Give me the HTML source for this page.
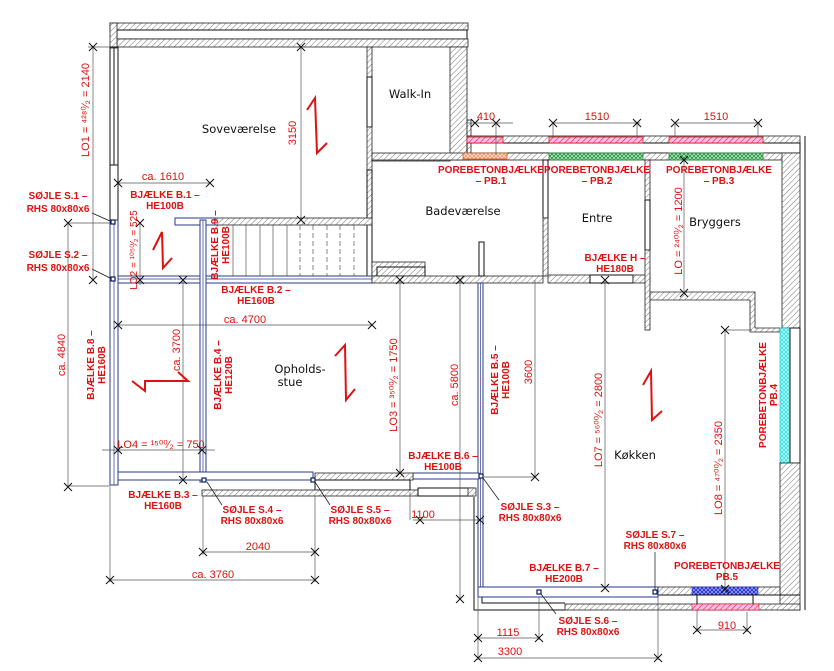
<!DOCTYPE html>
<html><head><meta charset="utf-8"><style>
html,body{margin:0;padding:0;background:#fff;width:834px;height:671px;overflow:hidden}
svg{display:block}
.r{fill:#e01010;font-family:"Liberation Sans",sans-serif;font-weight:bold;font-size:10px;text-anchor:middle}
.d{fill:#e01010;font-family:"Liberation Sans",sans-serif;font-size:11px;text-anchor:middle}
.n{fill:#111;font-family:"DejaVu Sans","Liberation Sans",sans-serif;font-size:11.5px;text-anchor:middle}
.h{fill:url(#hat);stroke:#222;stroke-width:0.8}
.b{fill:#fff;stroke:#2a3a8a;stroke-width:1}
.dl{stroke:#555;stroke-width:0.7;fill:none}
.z{stroke:#e01010;stroke-width:2;fill:none}
.w{stroke:#111;stroke-width:1;fill:none}
</style></head><body>
<svg width="834" height="671" viewBox="0 0 834 671" xmlns="http://www.w3.org/2000/svg">
<defs>
<pattern id="hat" width="4" height="4" patternUnits="userSpaceOnUse" patternTransform="rotate(45)"><rect width="4" height="4" fill="#fff"/><line x1="0" y1="0" x2="0" y2="4" stroke="#777" stroke-width="1"/></pattern>
<pattern id="xr" width="4" height="4" patternUnits="userSpaceOnUse" patternTransform="rotate(45)"><rect width="4" height="4" fill="#fbe"/><line x1="0" y1="0" x2="0" y2="4" stroke="#e01010" stroke-width="1"/></pattern>
<pattern id="xg" width="4" height="4" patternUnits="userSpaceOnUse"><rect width="4" height="4" fill="#2a9a4a"/><path d="M0 0L4 4M4 0L0 4" stroke="#bfe8c8" stroke-width="0.7"/></pattern>
<pattern id="xo" width="4" height="4" patternUnits="userSpaceOnUse"><rect width="4" height="4" fill="#f3a060"/><path d="M0 0L4 4M4 0L0 4" stroke="#fde" stroke-width="0.7"/></pattern>
<pattern id="xc" width="4" height="4" patternUnits="userSpaceOnUse"><rect width="4" height="4" fill="#40e0e8"/><path d="M0 0L4 4M4 0L0 4" stroke="#bff" stroke-width="0.7"/></pattern>
<pattern id="xb" width="4" height="4" patternUnits="userSpaceOnUse"><rect width="4" height="4" fill="#2030d0"/><path d="M0 0L4 4M4 0L0 4" stroke="#aaf" stroke-width="0.7"/></pattern>
</defs>

<!-- top wall -->
<rect class="h" x="110" y="23" width="358" height="7"/>
<rect class="w" x="117" y="30" width="350" height="9"/>
<rect class="h" x="117" y="39" width="351" height="8"/>
<rect class="h" x="110" y="23" width="7" height="25"/>
<!-- left window of bedroom -->
<rect class="w" x="110" y="47" width="8" height="118"/>
<line class="w" x1="114" y1="47" x2="114" y2="165"/>
<rect class="w" x="110" y="165" width="8" height="55"/>
<!-- walk-in right wall -->
<rect class="h" x="450" y="47" width="17" height="113"/>
<rect class="h" x="467" y="120" width="4" height="40"/>
<!-- walk-in divider -->
<rect class="h" x="367" y="47" width="5" height="30"/>
<rect class="w" x="367" y="77" width="5" height="50"/>
<rect class="h" x="367" y="127" width="5" height="97"/>
<rect class="h" x="372" y="155" width="78" height="6"/>
<rect class="w" x="367" y="170" width="5" height="108"/>
<!-- bedroom bottom wall -->
<rect class="h" x="215" y="218" width="157" height="7"/>
<rect class="b" x="175" y="218" width="40" height="7"/>
<!-- stair -->
<g stroke="#555" stroke-width="0.7">
<line x1="233" y1="225" x2="233" y2="276"/><line x1="246" y1="225" x2="246" y2="276"/><line x1="260" y1="225" x2="260" y2="276"/><line x1="273" y1="225" x2="273" y2="276"/><line x1="287" y1="225" x2="287" y2="276"/><line x1="300" y1="225" x2="300" y2="276" stroke-dasharray="5,3"/><line x1="313" y1="225" x2="313" y2="276" stroke-dasharray="5,3"/><line x1="327" y1="225" x2="327" y2="276" stroke-dasharray="5,3"/><line x1="340" y1="225" x2="340" y2="276" stroke-dasharray="5,3"/><line x1="354" y1="225" x2="354" y2="276" stroke-dasharray="5,3"/>
</g>
<rect class="h" x="372" y="262" width="53" height="14"/>
<rect class="w" x="377" y="267" width="48" height="9" fill="#fff"/>
<!-- beam B.2 -->
<rect class="b" x="110" y="276" width="262" height="7"/>
<line x1="110" y1="279" x2="372" y2="279" stroke="#2a3a8a" stroke-width="0.7"/>
<rect class="h" x="372" y="276" width="171" height="7"/>
<rect class="h" x="548" y="275" width="42" height="8"/>
<rect class="w" x="590" y="275" width="43" height="8"/>
<rect class="h" x="633" y="275" width="17" height="8"/>
<!-- top right wall -->
<rect class="h" x="467" y="136" width="333" height="7"/>
<rect class="w" x="467" y="143" width="333" height="10"/>
<rect class="h" x="372" y="153" width="428" height="7"/>
<line class="w" x1="805" y1="136" x2="805" y2="610"/>
<rect class="h" x="782" y="153" width="18" height="175"/>
<rect fill="url(#xr)" stroke="#e01010" stroke-width="0.8" x="467" y="137" width="36" height="6"/>
<rect fill="url(#xr)" stroke="#e01010" stroke-width="0.8" x="549" y="137" width="94" height="6"/>
<rect fill="url(#xr)" stroke="#e01010" stroke-width="0.8" x="669" y="137" width="94" height="6"/>
<rect fill="url(#xo)" stroke="#c06020" stroke-width="0.8" x="463" y="153" width="44" height="6"/>
<rect fill="url(#xg)" stroke="#2a8a3a" stroke-width="0.8" x="549" y="153" width="94" height="7"/>
<rect fill="url(#xg)" stroke="#2a8a3a" stroke-width="0.8" x="669" y="153" width="94" height="7"/>
<!-- room dividers -->
<rect class="w" x="543" y="160" width="5" height="58"/>
<rect class="h" x="543" y="218" width="5" height="58"/>
<rect class="h" x="645" y="160" width="5" height="40"/>
<rect class="w" x="645" y="200" width="5" height="50"/>
<rect class="h" x="645" y="250" width="5" height="80"/>
<rect class="w" x="479" y="242" width="5" height="34"/>
<path class="h" d="M650 292 H755 V328 H780 V332 H750 V300 H650 Z"/>
<!-- right walls -->
<rect fill="url(#xc)" stroke="#20b0c0" stroke-width="0.6" x="780" y="328" width="10" height="142"/>
<rect class="w" x="790" y="328" width="10" height="135"/>
<rect class="h" x="780" y="463" width="20" height="147"/>
<!-- bottom wall -->
<rect class="h" x="658" y="587" width="122" height="8"/>
<rect fill="url(#xb)" stroke="#2030c0" stroke-width="0.6" x="692" y="587" width="66" height="8"/>
<line class="w" x1="658" y1="595" x2="800" y2="595"/>
<rect class="h" x="565" y="604" width="235" height="6"/>
<rect fill="url(#xr)" stroke="#e01010" stroke-width="0.6" x="692" y="604" width="67" height="6"/>
<line class="w" x1="697" y1="595" x2="697" y2="604"/><line class="w" x1="753" y1="595" x2="753" y2="604"/>
<polyline class="w" points="474,497 474,610 565,610"/>
<polyline class="w" points="482,597 482,603 565,603"/>
<!-- beams -->
<rect class="b" x="110" y="220" width="8" height="265"/>
<line x1="114" y1="220" x2="114" y2="485" stroke="#2a3a8a" stroke-width="0.7"/>
<rect class="b" x="200" y="220" width="6" height="262"/>
<line x1="203" y1="220" x2="203" y2="482" stroke="#2a3a8a" stroke-width="0.7"/>
<rect class="b" x="118" y="472" width="195" height="8"/>
<rect class="b" x="478" y="283" width="5" height="304"/>
<line x1="480.5" y1="283" x2="480.5" y2="587" stroke="#2a3a8a" stroke-width="0.7"/>
<rect class="b" x="478" y="587" width="180" height="10"/>
<rect class="b" x="413" y="473" width="66" height="6"/>
<!-- living bottom walls -->
<rect class="h" x="315" y="473" width="98" height="7"/>
<rect class="w" x="315" y="480" width="95" height="10" fill="#fff"/>
<rect class="h" x="202" y="490" width="216" height="6"/>
<rect class="w" x="418" y="488" width="56" height="8"/>
<rect class="h" x="468" y="488" width="8" height="8"/>
<!-- columns -->
<g fill="#fff" stroke="#0a1a5a" stroke-width="1.2">
<rect x="111" y="220" width="4" height="4"/><rect x="111" y="277" width="4" height="4"/>
<rect x="202" y="478" width="4" height="4"/><rect x="311" y="478" width="4" height="4"/>
<rect x="479" y="474" width="4" height="4"/><rect x="537" y="590" width="4" height="4"/><rect x="653" y="590" width="4" height="4"/>
</g>
<!-- leader lines -->
<g stroke="#111" stroke-width="0.7">
<line x1="92" y1="213" x2="110" y2="221"/><line x1="92" y1="269" x2="110" y2="278"/>
<line x1="207" y1="482" x2="222" y2="505"/><line x1="315" y1="482" x2="330" y2="505"/>
<line x1="483" y1="478" x2="499" y2="500"/><line x1="541" y1="594" x2="556" y2="614"/><line x1="655" y1="552" x2="655" y2="590"/>
</g>

<!-- dimension lines -->
<g class="dl">
<line x1="93" y1="47" x2="93" y2="280"/><line x1="88" y1="47" x2="110" y2="47"/>
<line x1="118" y1="183" x2="210" y2="183"/>
<line x1="301" y1="47" x2="301" y2="220"/>
<line x1="68" y1="223" x2="110" y2="223"/><line x1="68" y1="223" x2="68" y2="487"/><line x1="68" y1="486" x2="110" y2="486"/>
<line x1="140" y1="223" x2="140" y2="285"/>
<line x1="118" y1="325" x2="372" y2="325"/>
<line x1="183" y1="280" x2="183" y2="480"/>
<line x1="102" y1="450" x2="215" y2="450"/>
<line x1="400" y1="280" x2="400" y2="473"/>
<line x1="460" y1="280" x2="460" y2="600"/>
<line x1="535" y1="280" x2="535" y2="477"/><line x1="483" y1="477" x2="535" y2="477"/>
<line x1="605" y1="280" x2="605" y2="588"/>
<line x1="684" y1="160" x2="684" y2="293"/>
<line x1="725" y1="330" x2="725" y2="590"/><line x1="725" y1="330" x2="752" y2="330"/>
<line x1="410" y1="492" x2="410" y2="520"/><line x1="413" y1="520" x2="480" y2="520"/>
<line x1="203" y1="496" x2="203" y2="555"/><line x1="203" y1="552" x2="315" y2="552"/><line x1="315" y1="496" x2="315" y2="582"/>
<line x1="110" y1="487" x2="110" y2="582"/><line x1="110" y1="580" x2="315" y2="580"/>
<line x1="478" y1="597" x2="478" y2="660"/><line x1="478" y1="638" x2="539" y2="638"/><line x1="539" y1="597" x2="539" y2="640"/>
<line x1="478" y1="658" x2="658" y2="658"/><line x1="658" y1="597" x2="658" y2="660"/>
<line x1="697" y1="610" x2="697" y2="632"/><line x1="747" y1="612" x2="747" y2="632"/><line x1="697" y1="630" x2="747" y2="630"/>
<line x1="467" y1="123" x2="513" y2="123"/><line x1="496" y1="123" x2="496" y2="155"/>
<line x1="553" y1="123" x2="640" y2="123"/><line x1="553" y1="123" x2="553" y2="137"/><line x1="637" y1="123" x2="637" y2="137"/>
<line x1="675" y1="123" x2="760" y2="123"/><line x1="675" y1="123" x2="675" y2="137"/><line x1="758" y1="123" x2="758" y2="137"/>
</g>
<!-- ticks -->
<g stroke="#111" stroke-width="1">
<path d="M89 43l8 8M97 43l-8 8M89 276l8 8M97 276l-8 8M114 179l8 8M122 179l-8 8M206 179l8 8M214 179l-8 8M297 43l8 8M305 43l-8 8M297 216l8 8M305 216l-8 8M64 219l8 8M72 219l-8 8M64 483l8 8M72 483l-8 8M136 219l8 8M144 219l-8 8M136 276l8 8M144 276l-8 8M114 321l8 8M122 321l-8 8M368 321l8 8M376 321l-8 8M179 276l8 8M187 276l-8 8M179 476l8 8M187 476l-8 8M114 446l8 8M122 446l-8 8M198 446l8 8M206 446l-8 8M396 276l8 8M404 276l-8 8M396 469l8 8M404 469l-8 8M456 276l8 8M464 276l-8 8M456 595l8 8M464 595l-8 8M531 473l8 8M539 473l-8 8M601 276l8 8M609 276l-8 8M601 584l8 8M609 584l-8 8M680 156l8 8M688 156l-8 8M680 289l8 8M688 289l-8 8M721 326l8 8M729 326l-8 8M721 585l8 8M729 585l-8 8M416 516l8 8M424 516l-8 8M476 516l8 8M484 516l-8 8M199 548l8 8M207 548l-8 8M311 548l8 8M319 548l-8 8M106 576l8 8M114 576l-8 8M311 576l8 8M319 576l-8 8M474 634l8 8M482 634l-8 8M535 634l8 8M543 634l-8 8M474 654l8 8M482 654l-8 8M654 654l8 8M662 654l-8 8M693 626l8 8M701 626l-8 8M743 626l8 8M751 626l-8 8M471 119l8 8M479 119l-8 8M492 119l8 8M500 119l-8 8M549 119l8 8M557 119l-8 8M633 119l8 8M641 119l-8 8M671 119l8 8M679 119l-8 8M754 119l8 8M762 119l-8 8"/>
</g>

<!-- Z symbols -->
<polyline class="z" points="307,110 315,98 317,153 327,143"/>
<polyline class="z" points="153,250 162,232 163,268 172,258"/>
<polyline class="z" points="132,381 145,391 145,381 188,381 178,372"/>
<polyline class="z" points="335,356 345,345 346,400 355,389"/>
<polyline class="z" points="643,385 651,371 652,420 662,411"/>

<!-- room names -->
<text class="n" x="239" y="133">Soveværelse</text>
<text class="n" x="410" y="98">Walk-In</text>
<text class="n" x="463" y="215">Badeværelse</text>
<text class="n" x="597" y="222">Entre</text>
<text class="n" x="715" y="226">Bryggers</text>
<text class="n" x="300" y="373">Opholds-</text>
<text class="n" x="290" y="386">stue</text>
<text class="n" x="635" y="459">Køkken</text>

<!-- dimension texts -->
<text class="d" x="486" y="120">410</text>
<text class="d" x="597" y="120">1510</text>
<text class="d" x="716" y="120">1510</text>
<text class="d" x="163" y="180">ca. 1610</text>
<text class="d" transform="translate(296,133) rotate(-90)">3150</text>
<text class="d" transform="translate(89,110) rotate(-90)">LO1 = ⁴²⁸⁰⁄₂ = 2140</text>
<text class="d" transform="translate(137,250) rotate(-90)" style="font-size:10px">LO2 = ¹⁰⁵⁰⁄₂ = 525</text>
<text class="d" x="245" y="323">ca. 4700</text>
<text class="d" transform="translate(180,350) rotate(-90)">ca. 3700</text>
<text class="d" transform="translate(65,355) rotate(-90)">ca. 4840</text>
<text class="d" x="161" y="448">LO4 = ¹⁵⁰⁰⁄₂ = 750</text>
<text class="d" transform="translate(397,385) rotate(-90)">LO3 = ³⁵⁰⁰⁄₂ = 1750</text>
<text class="d" transform="translate(458,385) rotate(-90)">ca. 5800</text>
<text class="d" transform="translate(532,372) rotate(-90)">3600</text>
<text class="d" transform="translate(602,420) rotate(-90)">LO7 = ⁵⁶⁰⁰⁄₂ = 2800</text>
<text class="d" transform="translate(682,231) rotate(-90)">LO = ²⁴⁰⁰⁄₂ = 1200</text>
<text class="d" transform="translate(722,468) rotate(-90)">LO8 = ⁴⁷⁰⁰⁄₂ = 2350</text>
<text class="d" x="423" y="518">1100</text>
<text class="d" x="258" y="550">2040</text>
<text class="d" x="213" y="578">ca. 3760</text>
<text class="d" x="508" y="636">1115</text>
<text class="d" x="510" y="655">3300</text>
<text class="d" x="727" y="629">910</text>

<!-- bold labels -->
<text class="r" x="58" y="199">SØJLE S.1 –</text><text class="r" x="58" y="212">RHS 80x80x6</text>
<text class="r" x="58" y="258">SØJLE S.2 –</text><text class="r" x="58" y="271">RHS 80x80x6</text>
<text class="r" x="165" y="198">BJÆLKE B.1 –</text><text class="r" x="165" y="209">HE100B</text>
<text class="r" transform="translate(218,245) rotate(-90)">BJÆLKE B.9 –</text><text class="r" transform="translate(229,245) rotate(-90)">HE100B</text>
<text class="r" x="256" y="293">BJÆLKE B.2 –</text><text class="r" x="256" y="304">HE160B</text>
<text class="r" transform="translate(94,365) rotate(-90)">BJÆLKE B.8 –</text><text class="r" transform="translate(105,365) rotate(-90)">HE160B</text>
<text class="r" transform="translate(221,375) rotate(-90)">BJÆLKE B.4 –</text><text class="r" transform="translate(232,375) rotate(-90)">HE120B</text>
<text class="r" x="163" y="498">BJÆLKE B.3 –</text><text class="r" x="163" y="509">HE160B</text>
<text class="r" x="252" y="513">SØJLE S.4 –</text><text class="r" x="252" y="524">RHS 80x80x6</text>
<text class="r" x="360" y="513">SØJLE S.5 –</text><text class="r" x="360" y="524">RHS 80x80x6</text>
<text class="r" x="443" y="459">BJÆLKE B.6 –</text><text class="r" x="443" y="470">HE100B</text>
<text class="r" x="530" y="510">SØJLE S.3 –</text><text class="r" x="530" y="521">RHS 80x80x6</text>
<text class="r" transform="translate(498,380) rotate(-90)">BJÆLKE B.5 –</text><text class="r" transform="translate(509,380) rotate(-90)">HE100B</text>
<text class="r" x="655" y="538">SØJLE S.7 –</text><text class="r" x="655" y="549">RHS 80x80x6</text>
<text class="r" x="564" y="571">BJÆLKE B.7 –</text><text class="r" x="564" y="582">HE200B</text>
<text class="r" x="588" y="624">SØJLE S.6 –</text><text class="r" x="588" y="635">RHS 80x80x6</text>
<text class="r" x="727" y="569">POREBETONBJÆLKE</text><text class="r" x="727" y="580">PB.5</text>
<text class="r" transform="translate(766,395) rotate(-90)">POREBETONBJÆLKE</text><text class="r" transform="translate(777,395) rotate(-90)">PB.4</text>
<text class="r" x="491" y="173">POREBETONBJÆLKE</text><text class="r" x="491" y="184">– PB.1</text>
<text class="r" x="597" y="173">POREBETONBJÆLKE</text><text class="r" x="597" y="184">– PB.2</text>
<text class="r" x="719" y="173">POREBETONBJÆLKE</text><text class="r" x="719" y="184">– PB.3</text>
<text class="r" x="615" y="261">BJÆLKE H –</text><text class="r" x="615" y="272">HE180B</text>
</svg>
</body></html>
